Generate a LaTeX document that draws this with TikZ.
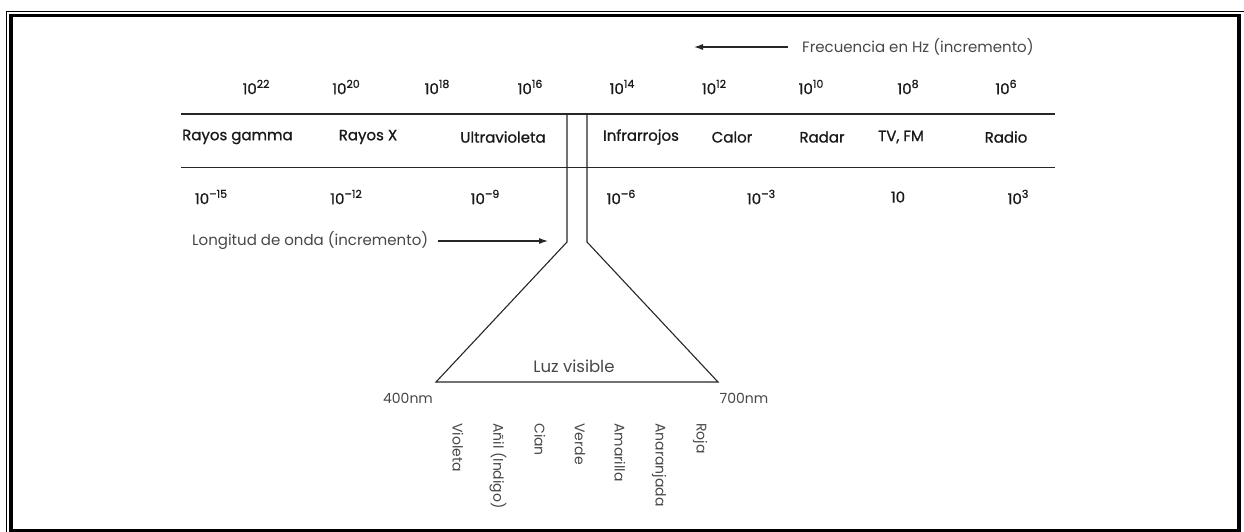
\documentclass[tikz,border=0pt]{standalone}
\usepackage{fontspec}
\setmainfont{Poppins}
\newfontfamily\medfont{Poppins}[FakeBold=1.0]
\newcommand\ex[1]{\raisebox{0.42em}{\fontsize{11}{11}\selectfont #1}}
\usetikzlibrary{arrows.meta}
\begin{document}
\begin{tikzpicture}[x=1pt,y=-1pt,
  lab/.style={font=\medfont\fontsize{15}{17}\selectfont, text=black!90, inner sep=0pt, anchor=center},
  thin/.style={font=\fontsize{15}{17}\selectfont, text=black!72, inner sep=0pt},
  col/.style={font=\fontsize{14}{16}\selectfont, text=black!72, inner sep=0pt, rotate=-90, anchor=west},
  ln/.style={line width=1.1pt, draw=black!85},
  arr/.style={line width=1.1pt, draw=black!85, -{Latex[length=9pt,width=6pt]}}]
\useasboundingbox (0,0) rectangle (1244,532);
% frame
\draw[line width=1.3pt] (6.5,545) -- (6.5,11.5) -- (1250,11.5);
\draw[line width=3.5pt] (11,15.5) rectangle (1239,530.5);
% frequency arrow
\node[thin, anchor=west] (freq) at (802,47) {Frecuencia en Hz (incremento)};
\coordinate (fend) at (694,47);
\draw[arr] ([xshift=-14pt]freq.west) -- (fend);
% top row
\node[lab] (f22) at (256,87) {10\ex{22}};
\node[lab] (f20) at (346,87) {10\ex{20}};
\node[lab] (f18) at (437,87) {10\ex{18}};
\node[lab] (f16) at (530,87) {10\ex{16}};
\node[lab] (f14) at (622,87) {10\ex{14}};
\node[lab] (f12) at (714,87) {10\ex{12}};
\node[lab] (f10) at (811,87) {10\ex{10}};
\node[lab] (f8) at (908,87) {10\ex{8}};
\node[lab] (f6) at (1006,87) {10\ex{6}};
% lines
\draw[ln] (181,114) -- (1055,114);
\draw[ln] (181,167.5) -- (1055,167.5);
% band names
\node[lab, anchor=west] (gam) at (182,137) {Rayos gamma};
\node[lab] (rx) at (368,137) {Rayos X};
\node[lab] (uv) at (503,137) {Ultravioleta};
\node[lab] (ir) at (641,137) {Infrarrojos};
\node[lab] (cal) at (732,137) {Calor};
\node[lab] (rad) at (822,137) {Radar};
\node[lab] (tv) at (901,137) {TV, FM};
\node[lab] (radio) at (1006,137) {Radio};
% wavelength row
\node[lab] (w15) at (211,197) {10\ex{–15}};
\node[lab] (w12) at (346,197) {10\ex{–12}};
\node[lab] (w9) at (485,197) {10\ex{–9}};
\node[lab] (w6) at (621,197) {10\ex{–6}};
\node[lab] (w3) at (761,197) {10\ex{–3}};
\node[lab] (w1) at (898,197) {10};
\node[lab] (wp3) at (1018,197) {10\ex{3}};
% wavelength arrow
\node[thin, anchor=west] (long) at (192,241) {Longitud de onda (incremento)};
\coordinate (lend) at (548,241);
\draw[arr] ([xshift=10pt]long.east) -- (lend);
% visible funnel
\coordinate (a1) at (567,114);
\coordinate (a2) at (567,242);
\coordinate (b1) at (587,114);
\coordinate (b2) at (587,242);
\coordinate (c1) at (436,382);
\coordinate (c2) at (718,382);
\draw[ln] (a1) -- (a2) -- (c1) -- (c2) -- (b2) -- (b1);
\node[thin, font=\fontsize{16.5}{18}\selectfont] (luz) at (574,366) {Luz visible};
\node[thin, font=\fontsize{14}{16}\selectfont] (n400) at (408,398) {400nm};
\node[thin, font=\fontsize{14}{16}\selectfont] (n700) at (744,398) {700nm};
% colours
\node[col] (c-vi) at (458,423) {Violeta};
\node[col] (c-an) at (498,423) {Añil (Indigo)};
\node[col] (c-ci) at (540,423) {Cian};
\node[col] (c-ve) at (580,423) {Verde};
\node[col] (c-am) at (620,423) {Amarilla};
\node[col] (c-na) at (659,423) {Anaranjada};
\node[col] (c-ro) at (700,423) {Roja};
\end{tikzpicture}
\end{document}
